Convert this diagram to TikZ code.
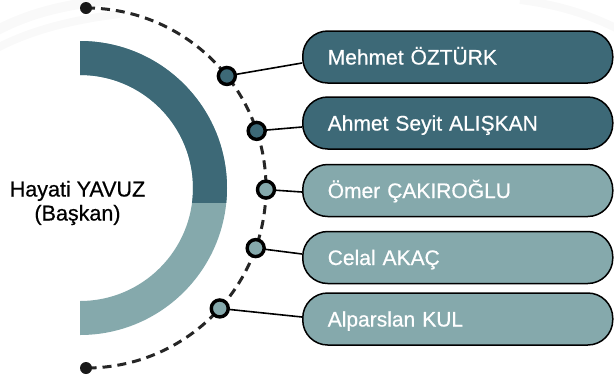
\documentclass[tikz,border=0pt]{standalone}
\usepackage{fontspec}
\setmainfont{Liberation Sans}[FakeBold=0.6]
\definecolor{tealdark}{HTML}{3D6977}
\definecolor{teallight}{HTML}{85A9AC}
\definecolor{faint}{HTML}{F9F9F9}
\begin{document}
\begin{tikzpicture}[x=1pt,y=-1pt,
  pill/.style={draw=black, line width=1.5pt, rounded corners=25pt, minimum height=52pt,
    text width=260pt, inner xsep=25pt, inner ysep=0pt, align=left, text=white,
    font=\fontsize{21}{23}\selectfont, text height=15pt, text depth=0pt, anchor=west},
  knob/.style={circle, draw=black, line width=3.4pt, minimum size=17pt, inner sep=0pt},
  enddot/.style={circle, fill=black!90, minimum size=12pt, inner sep=0pt},
  link/.style={draw=black, line width=1.6pt},
  dashedarc/.style={draw=black!85, line width=3pt, dash pattern=on 9pt off 6pt}
]
\useasboundingbox (0,0) rectangle (614,376);
% faint background swirls
\draw[faint, line width=10pt] (-20,40) .. controls (20,15) and (60,5) .. (110,0);
\draw[faint, line width=8pt] (-20,58) .. controls (20,32) and (70,20) .. (120,14);
\draw[faint, line width=8pt] (520,0) .. controls (560,5) and (590,15) .. (620,30);
% ring
\fill[teallight] (80,41) arc[start angle=-90, end angle=90, radius=147]
  -- (80,301) arc[start angle=90, end angle=-90, radius=113] -- cycle;
\begin{scope}
\clip (0,0) rectangle (614,202);
\fill[tealdark] (80,41) arc[start angle=-90, end angle=90, radius=147]
  -- (80,301) arc[start angle=90, end angle=-90, radius=113] -- cycle;
\end{scope}
% center label
\node[align=center, font=\fontsize{21.5}{24}\selectfont, inner sep=0pt, text=black] (boss) at (77.5,203) {Hayati YAVUZ\\(Başkan)};
% dashed arc
\coordinate (cen) at (86,188);
\draw[dashedarc] (86,8) arc[start angle=-90, end angle=90, radius=180];
\node[enddot] (dtop) at (86,8) {};
\node[enddot] (dbot) at (86,368) {};
% pills
\node[pill, fill=tealdark] (p1) at (302,57) {Mehmet ÖZTÜRK};
\node[pill, fill=tealdark] (p2) at (302,123) {Ahmet Seyit ALIŞKAN};
\node[pill, fill=teallight] (p3) at (302,190.5) {Ömer ÇAKIROĞLU};
\node[pill, fill=teallight] (p4) at (302,257.5) {Celal AKAÇ};
\node[pill, fill=teallight] (p5) at (302,319) {Alparslan KUL};
% knobs on arc
\path (cen) ++(-38.5:180) coordinate (k1c);
\path (cen) ++(-18.5:180) coordinate (k2c);
\path (cen) ++(0.5:180) coordinate (k3c);
\path (cen) ++(19.5:180) coordinate (k4c);
\path (cen) ++(42:180) coordinate (k5c);
\draw[link] (k1c) -- ([yshift=-6pt]p1.west);
\draw[link] (k2c) -- ([yshift=-4pt]p2.west);
\draw[link] (k3c) -- ([yshift=-1.5pt]p3.west);
\draw[link] (k4c) -- ([yshift=3.5pt]p4.west);
\draw[link] (k5c) -- ([yshift=2pt]p5.west);
\node[knob, fill=tealdark] (k1) at (k1c) {};
\node[knob, fill=tealdark] (k2) at (k2c) {};
\node[knob, fill=teallight] (k3) at (k3c) {};
\node[knob, fill=teallight] (k4) at (k4c) {};
\node[knob, fill=teallight] (k5) at (k5c) {};
\end{tikzpicture}
\end{document}
